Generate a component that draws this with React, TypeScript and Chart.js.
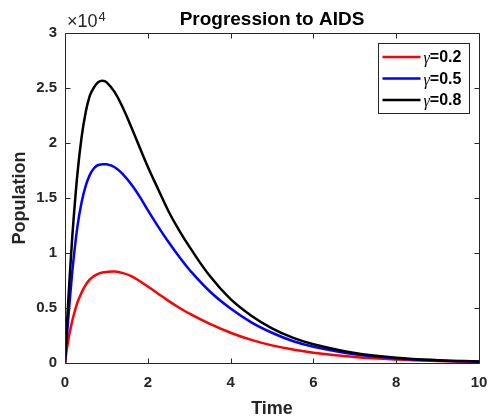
import React, { useEffect, useRef } from "react";
import { Chart, registerables } from "chart.js";

Chart.register(...registerables);

// Time values (x)
const times = [0, 0.05, 0.1, 0.15, 0.2, 0.3, 0.4, 0.5, 0.6, 0.7, 0.8, 0.9, 1.0, 1.2, 1.4, 1.6, 1.8, 2.0, 2.25, 2.5, 2.75, 3.0, 3.5, 4.0, 4.5, 5.0, 5.5, 6, 7, 8, 9, 10];
// Population for gamma = 0.2
const gamma02 = [0, 1400, 2500, 3400, 4200, 5500, 6400, 7100, 7600, 7900, 8100, 8220, 8280, 8310, 8170, 7900, 7450, 6950, 6300, 5650, 5050, 4500, 3550, 2750, 2100, 1600, 1230, 930, 540, 310, 180, 100];
// Population for gamma = 0.5
const gamma05 = [0, 2600, 5000, 7200, 9200, 12400, 14600, 16100, 17100, 17700, 18000, 18060, 18060, 17800, 17150, 16250, 15150, 13900, 12400, 11000, 9700, 8500, 6500, 4950, 3700, 2750, 2000, 1480, 790, 420, 220, 120];
// Population for gamma = 0.8
const gamma08 = [0, 3700, 7000, 10000, 12700, 17200, 20500, 22800, 24300, 25050, 25520, 25660, 25530, 24620, 23180, 21460, 19630, 17850, 15800, 13800, 12100, 10600, 7900, 5800, 4300, 3150, 2300, 1700, 900, 480, 260, 140];

const seriesLabels = ["=0.2", "=0.5", "=0.8"];
const seriesColors = ["#ff0000", "#0000ff", "#000000"];
const xTicks = [0, 2, 4, 6, 8, 10];
const yTicks = [0, 5000, 10000, 15000, 20000, 25000, 30000];

const SANS = "'Liberation Sans', Arial, Helvetica, sans-serif";
const AXIS = "#262626";

const decorPlugin = {
  id: "decor",
  afterDraw(chart: any) {
    const { ctx, chartArea: a, scales } = chart;
    const xs = scales.x;
    const ys = scales.y;
    ctx.save();
    // axes box
    ctx.strokeStyle = AXIS;
    ctx.lineWidth = 1;
    const L = Math.round(a.left) + 0.5;
    const R = Math.round(a.right) + 0.5;
    const T = Math.round(a.top) + 0.5;
    const B = Math.round(a.bottom) + 0.5;
    ctx.beginPath();
    ctx.moveTo(L, T);
    ctx.lineTo(R, T);
    ctx.lineTo(R, B);
    ctx.lineTo(L, B);
    ctx.closePath();
    ctx.stroke();
    // inward ticks
    const tl = 5;
    ctx.beginPath();
    xTicks.forEach((v) => {
      const px = Math.round(xs.getPixelForValue(v)) + 0.5;
      ctx.moveTo(px, B);
      ctx.lineTo(px, B - tl);
      ctx.moveTo(px, T);
      ctx.lineTo(px, T + tl);
    });
    yTicks.forEach((v) => {
      const py = Math.round(ys.getPixelForValue(v)) + 0.5;
      ctx.moveTo(L, py);
      ctx.lineTo(L + tl, py);
      ctx.moveTo(R, py);
      ctx.lineTo(R - tl, py);
    });
    ctx.stroke();

    // title
    const cx = (a.left + a.right) / 2;
    ctx.fillStyle = "#000";
    ctx.font = `bold 19px ${SANS}`;
    ctx.textAlign = "center";
    ctx.textBaseline = "alphabetic";
    ctx.fillText("Progression to AIDS", cx, a.top - 8);

    // x axis title
    ctx.fillStyle = AXIS;
    ctx.font = `bold 18px ${SANS}`;
    ctx.fillText("Time", cx, a.bottom + 51);

    // y axis title
    ctx.save();
    ctx.translate(a.left - 40, (a.top + a.bottom) / 2);
    ctx.rotate(-Math.PI / 2);
    ctx.fillText("Population", 0, 0);
    ctx.restore();

    // exponent label
    ctx.textAlign = "left";
    ctx.font = `18px ${SANS}`;
    ctx.fillText("\u00d710", a.left + 2, a.top - 6);
    const w = ctx.measureText("\u00d710").width;
    ctx.font = `13px ${SANS}`;
    ctx.fillText("4", a.left + 2 + w + 1, a.top - 12);

    // legend
    const bw = 91;
    const bh = 70;
    const bx = Math.round(a.right) - 10 - bw + 0.5;
    const by = Math.round(a.top) + 10 + 0.5;
    ctx.fillStyle = "#fff";
    ctx.fillRect(bx, by, bw, bh);
    ctx.strokeStyle = AXIS;
    ctx.lineWidth = 1;
    ctx.strokeRect(bx, by, bw, bh);
    seriesLabels.forEach((lab, i) => {
      const ly = by + 13.5 + i * 21.5;
      ctx.strokeStyle = seriesColors[i];
      ctx.lineWidth = 2.5;
      ctx.beginPath();
      ctx.moveTo(bx + 4, ly);
      ctx.lineTo(bx + 42, ly);
      ctx.stroke();
      ctx.fillStyle = "#000";
      ctx.textBaseline = "middle";
      ctx.font = `italic 16px 'Liberation Serif', 'DejaVu Serif', serif`;
      ctx.fillText("\u03b3", bx + 45, ly + 2);
      const gw = ctx.measureText("\u03b3").width;
      ctx.font = `bold 16px ${SANS}`;
      ctx.fillText(lab, bx + 45 + gw, ly + 1);
    });
    ctx.restore();
  },
};

export default function App() {
  const ref = useRef<HTMLCanvasElement | null>(null);
  useEffect(() => {
    if (!ref.current) return;
    const mk = (vals: number[]) => times.map((t, i) => ({ x: t, y: vals[i] }));
    const common = { borderWidth: 2.5, pointRadius: 0, tension: 0.4, fill: false, borderJoinStyle: "round", borderCapStyle: "round" };
    const chart = new Chart(ref.current, {
      type: "line",
      data: {
        datasets: [
          { label: "γ=0.2", data: mk(gamma02), borderColor: seriesColors[0], order: 3, ...common },
          { label: "γ=0.5", data: mk(gamma05), borderColor: seriesColors[1], order: 2, ...common },
          { label: "γ=0.8", data: mk(gamma08), borderColor: seriesColors[2], order: 1, ...common },
        ] as any,
      },
      options: {
        responsive: false,
        animation: false,
        events: [],
        layout: { padding: { left: 0, top: 33, right: 9, bottom: 0 } },
        plugins: { legend: { display: false }, title: { display: false }, tooltip: { enabled: false } },
        scales: {
          x: {
            type: "linear",
            min: 0,
            max: 10,
            afterBuildTicks: (s: any) => { s.ticks = xTicks.map((v) => ({ value: v })); },
            afterFit: (s: any) => { s.height = 56; s.paddingLeft = 0; s.paddingRight = 0; },
            grid: { display: false, drawTicks: false },
            border: { display: false },
            ticks: { color: AXIS, font: { family: SANS, size: 15, weight: "bold" }, padding: 11, maxRotation: 0, autoSkip: false },
          },
          y: {
            type: "linear",
            min: 0,
            max: 30000,
            afterBuildTicks: (s: any) => { s.ticks = yTicks.map((v) => ({ value: v })); },
            afterFit: (s: any) => { s.width = 65; s.paddingTop = 0; s.paddingBottom = 0; },
            grid: { display: false, drawTicks: false },
            border: { display: false },
            ticks: {
              color: AXIS,
              font: { family: SANS, size: 15, weight: "bold" },
              padding: 8,
              autoSkip: false,
              callback: (v: any) => String(Number(v) / 10000),
            },
          },
        },
      },
      plugins: [decorPlugin],
    } as any);
    return () => chart.destroy();
  }, []);
  return (
    <div style={{ position: "absolute", left: 0, top: 0, width: 488, height: 419, background: "#fff" }}>
      <canvas ref={ref} width={488} height={419} style={{ display: "block" }} />
    </div>
  );
}
